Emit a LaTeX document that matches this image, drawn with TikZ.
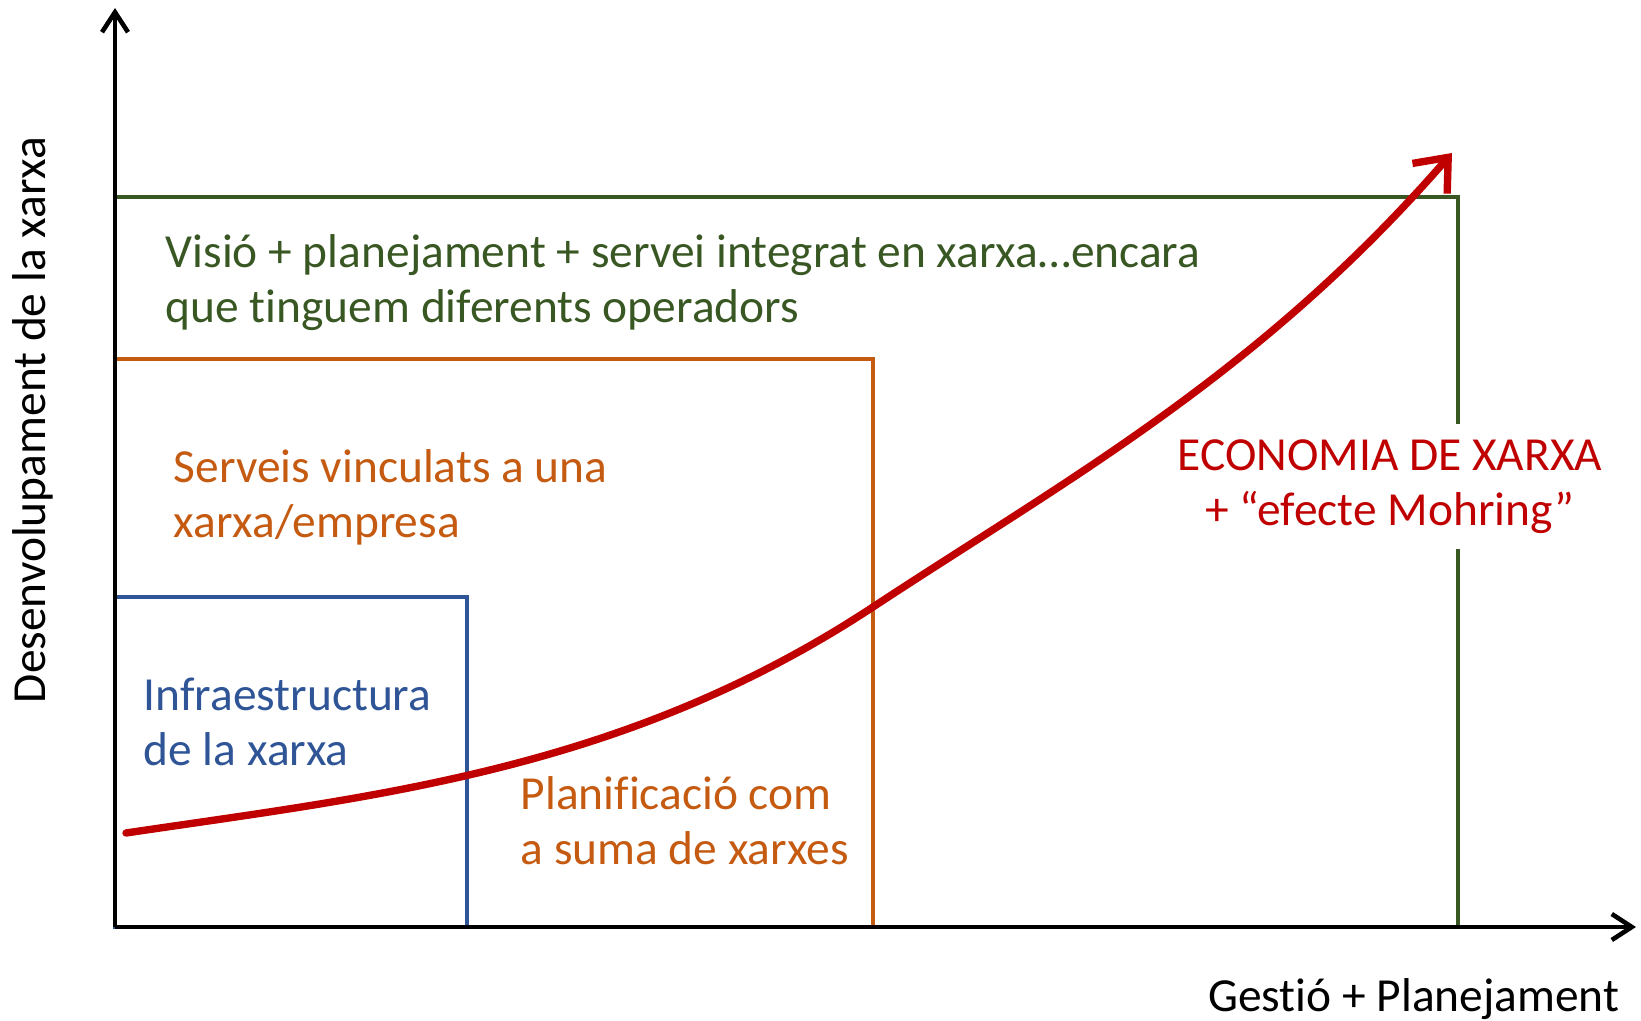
\documentclass[tikz,border=0pt]{standalone}
\usepackage{fontspec}
\setmainfont{Carlito}[Ligatures=NoCommon]
\usetikzlibrary{arrows.meta}
\definecolor{verd}{RGB}{56,87,35}
\definecolor{taronja}{RGB}{197,90,17}
\definecolor{blau}{RGB}{47,85,151}
\definecolor{vermell}{RGB}{192,0,0}
\begin{document}
\begin{tikzpicture}[>={Straight Barb[length=2mm,width=2.6mm]}, x=1cm, y=1cm,
		marc/.style={line width=1.25pt},
		eix/.style={->, line width=1.3pt},
		txt/.style={inner sep=0pt, align=left, anchor=base west, font=\fontsize{13.5}{15.9}\selectfont}]
	\useasboundingbox (0,0) rectangle (16.41,10.21);
	\def\xo{1.15} \def\yo{0.94} \def\xmax{16.36} \def\ymax{10.13}
	\coordinate (O) at (\xo,\yo);
	% nivells (base = darrera linia)
	\draw [marc, verd] (O) rectangle (14.58,8.24);
	\draw [marc, taronja] (O) rectangle (8.73,6.62);
	\draw [marc, blau] (O) rectangle (4.67,4.24);
	\node [txt, verd] (visio) at (1.65,6.98) {Visió + planejament + servei integrat en xarxa…encara\\que tinguem diferents operadors};
	\node [txt, taronja] (serveis) at (1.73,4.83) {Serveis vinculats a una\\xarxa/empresa};
	\node [txt, blau] (infra) at (1.43,2.55) {Infraestructura\\de la xarxa};
	\node [txt, taronja] (planif) at (5.20,1.56) {Planificació com\\a suma de xarxes};
	\node [txt, vermell, align=center, anchor=base, fill=white, inner xsep=2pt, inner ysep=0.15cm] (eco) at (13.90,4.95) {ECONOMIA DE XARXA\\+ “efecte Mohring”};
	% eixos
	\draw [eix] (O)--(\xmax,\yo);
	\draw [eix] (O)--(\xo,\ymax);
	\node [txt, anchor=base east] (gestio) at (16.20,0.09) {Gestió + Planejament};
	\node [txt, rotate=90, anchor=base] (desenv) at (0.46,6.01) {Desenvolupament de la xarxa};
	% corba
	\coordinate (c0) at (1.26,1.88);
	\coordinate (c1) at (8.73,4.14);
	\coordinate (c2) at (14.52,8.68);
	\draw [vermell, line width=2.1pt, line cap=round, -{Straight Barb[length=2.8mm,width=4.6mm]}] (c0) .. controls (3.75,2.25) and (6.24,2.50) .. (c1) .. controls (10.66,5.41) and (12.59,6.46) .. (c2);
\end{tikzpicture}
\end{document}
